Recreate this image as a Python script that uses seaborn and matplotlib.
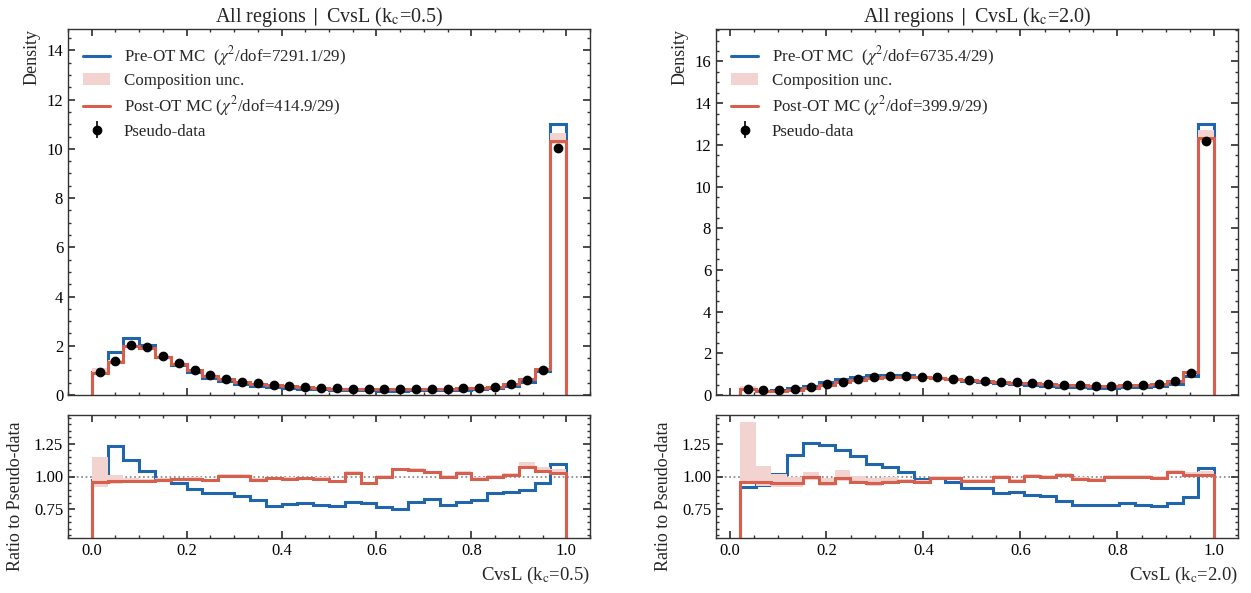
import numpy as np
import matplotlib
matplotlib.use("Agg")
import matplotlib.pyplot as plt
from matplotlib.ticker import MultipleLocator
import seaborn as sns

# binning: 30 bins up to 1.0, lower edge differs per panel
n_bins = 30
lo_05 = 0.0
lo_20 = 0.021

# CvsL (kc=0.5): density per bin
data_05 = [0.95, 1.40, 2.04, 1.97, 1.60, 1.28, 1.02, 0.81, 0.65, 0.54,
           0.47, 0.41, 0.36, 0.32, 0.29, 0.27, 0.25, 0.24, 0.235, 0.24,
           0.235, 0.24, 0.25, 0.27, 0.30, 0.34, 0.43, 0.61, 1.03, 10.05]
pre_05 = [0.926, 1.730, 2.303, 2.051, 1.563, 1.215, 0.919, 0.710, 0.567, 0.459,
          0.384, 0.319, 0.284, 0.254, 0.226, 0.210, 0.201, 0.191, 0.181, 0.181,
          0.189, 0.198, 0.195, 0.217, 0.245, 0.297, 0.380, 0.547, 0.977, 11.015]
post_05 = [0.907, 1.350, 1.973, 1.895, 1.560, 1.254, 1.002, 0.787, 0.653, 0.544,
           0.459, 0.405, 0.354, 0.316, 0.285, 0.260, 0.257, 0.228, 0.234, 0.253,
           0.246, 0.248, 0.250, 0.278, 0.295, 0.340, 0.436, 0.652, 1.074, 10.331]
# composition uncertainty, relative to post-OT MC
unc_up_05 = [0.20, 0.05, 0.02, 0.02, 0.012, 0.012, 0.012, 0.012, 0.012, 0.012,
             0.012, 0.012, 0.012, 0.012, 0.012, 0.012, 0.012, 0.012, 0.012, 0.012,
             0.015, 0.012, 0.012, 0.015, 0.012, 0.012, 0.012, 0.04, 0.03, 0.03]
unc_dn_05 = [0.04, 0.02, 0.02, 0.015, 0.012, 0.012, 0.012, 0.012, 0.012, 0.012,
             0.012, 0.012, 0.012, 0.012, 0.012, 0.012, 0.012, 0.012, 0.012, 0.012,
             0.012, 0.012, 0.012, 0.012, 0.012, 0.012, 0.012, 0.012, 0.012, 0.012]
chi2_pre_05 = "7291.1/29"
chi2_post_05 = "414.9/29"

# CvsL (kc=2.0)
data_20 = [0.31, 0.22, 0.22, 0.27, 0.36, 0.505, 0.645, 0.755, 0.86, 0.905,
           0.905, 0.885, 0.84, 0.785, 0.735, 0.685, 0.645, 0.60, 0.56, 0.515,
           0.49, 0.47, 0.45, 0.45, 0.46, 0.48, 0.53, 0.67, 1.075, 12.2]
pre_20 = [0.286, 0.205, 0.224, 0.314, 0.451, 0.627, 0.778, 0.872, 0.943, 0.969,
          0.939, 0.865, 0.829, 0.751, 0.670, 0.627, 0.563, 0.529, 0.482, 0.440,
          0.398, 0.366, 0.353, 0.351, 0.367, 0.375, 0.410, 0.536, 0.903, 13.005]
post_20 = [0.298, 0.211, 0.209, 0.257, 0.358, 0.479, 0.637, 0.723, 0.816, 0.866,
           0.872, 0.847, 0.832, 0.775, 0.711, 0.664, 0.642, 0.578, 0.562, 0.512,
           0.497, 0.462, 0.437, 0.448, 0.458, 0.478, 0.525, 0.692, 1.089, 12.322]
unc_up_20 = [0.47, 0.125, 0.075, 0.045, 0.04, 0.045, 0.06, 0.05, 0.045, 0.04,
             0.02, 0.015, 0.015, 0.015, 0.015, 0.015, 0.015, 0.015, 0.015, 0.015,
             0.015, 0.015, 0.015, 0.015, 0.015, 0.015, 0.015, 0.02, 0.02, 0.03]
unc_dn_20 = [0.02, 0.03, 0.03, 0.03, 0.02, 0.025, 0.02, 0.015, 0.02, 0.015,
             0.015, 0.015, 0.015, 0.015, 0.015, 0.015, 0.015, 0.015, 0.015, 0.015,
             0.015, 0.015, 0.015, 0.015, 0.015, 0.015, 0.015, 0.015, 0.015, 0.015]
chi2_pre_20 = "6735.4/29"
chi2_post_20 = "399.9/29"

BLUE = "#2166ac"
RED = "#d6604d"
PINK = "#f3d3cf"

sns.set_theme(style="ticks")
plt.rcParams["font.family"] = ["Liberation Serif", "DejaVu Serif"]
plt.rcParams["mathtext.fontset"] = "stix"
plt.rcParams.update({
    "xtick.direction": "in", "ytick.direction": "in",
    "xtick.top": True, "ytick.right": True,
    "xtick.minor.visible": True, "ytick.minor.visible": True,
    "xtick.major.size": 5, "ytick.major.size": 5,
    "xtick.minor.size": 2.5, "ytick.minor.size": 2.5,
    "xtick.color": "#333333", "ytick.color": "#333333",
    "axes.edgecolor": "#333333", "axes.linewidth": 1.0,
    "xtick.labelsize": 12, "ytick.labelsize": 12,
    "xtick.labelcolor": "black", "ytick.labelcolor": "black",
})


def draw(fig, x0, lo, data, pre, post, up, dn, chi_pre, chi_post, kc):
    w = 522 / 1251
    ax = fig.add_axes([x0, 1 - 395 / 593, w, 366 / 593])
    rax = fig.add_axes([x0, 1 - 538 / 593, w, 123 / 593], sharex=ax)

    edges = np.linspace(lo, 1.0, n_bins + 1)
    centers = 0.5 * (edges[1:] + edges[:-1])
    data = np.asarray(data)
    pre = np.asarray(pre)
    post = np.asarray(post)
    band_hi = post * (1 + np.asarray(up))
    band_lo = post * (1 - np.asarray(dn))

    ax.stairs(pre, edges, color=BLUE, lw=2.2,
              label=r"Pre-OT MC  ($\chi^2$/dof=" + chi_pre + ")")
    ax.stairs(band_hi, edges, baseline=band_lo, fill=True, color=PINK,
              lw=0, label="Composition unc.")
    ax.stairs(post, edges, color=RED, lw=2.2,
              label=r"Post-OT MC ($\chi^2$/dof=" + chi_post + ")")
    ax.errorbar(centers, data, yerr=0.02, fmt="o", color="black", ms=6,
                elinewidth=1.2, label="Pseudo-data", zorder=5)

    ax.set_ylim(0, 1.35 * pre.max())
    pad = 0.05 * (1.0 - lo)
    ax.set_xlim(lo - pad, 1.0 + pad)
    ax.yaxis.set_major_locator(MultipleLocator(2))
    ax.yaxis.set_minor_locator(MultipleLocator(0.5))
    ax.xaxis.set_major_locator(MultipleLocator(0.2))
    ax.xaxis.set_minor_locator(MultipleLocator(0.05))
    ax.tick_params(labelbottom=False)
    ax.set_ylabel("Density", loc="top", fontsize=13)
    ax.set_title(r"All regions $\mid$ CvsL (k$_{\mathrm{c}}$=" + kc + ")",
                 fontsize=14.5, pad=5)
    ax.legend(loc="upper left", frameon=False, fontsize=12.2,
              handlelength=1.6, handletextpad=0.8, borderaxespad=0.5,
              labelspacing=0.3)

    rax.stairs(pre / data, edges, color=BLUE, lw=2.2)
    rax.stairs(band_hi / data, edges, baseline=band_lo / data, fill=True,
               color=PINK, lw=0)
    rax.stairs(post / data, edges, color=RED, lw=2.2)
    rax.axhline(1.0, color="grey", ls=":", lw=1.2, zorder=0.5)
    rax.set_ylim(0.53, 1.47)
    rax.yaxis.set_major_locator(MultipleLocator(0.25))
    rax.yaxis.set_minor_locator(MultipleLocator(0.05))
    rax.set_ylabel("Ratio to Pseudo-data", fontsize=13)
    rax.yaxis.set_label_coords(-0.085, 0.34)
    rax.set_xlabel("CvsL (k$_{\\mathrm{c}}$=" + kc + ")", loc="right",
                   fontsize=13.5)


fig = plt.figure(figsize=(12.51, 5.93), dpi=100)
draw(fig, 68 / 1251, lo_05, data_05, pre_05, post_05, unc_up_05, unc_dn_05,
     chi2_pre_05, chi2_post_05, "0.5")
draw(fig, 716 / 1251, lo_20, data_20, pre_20, post_20, unc_up_20, unc_dn_20,
     chi2_pre_20, chi2_post_20, "2.0")
fig.savefig("out.png", dpi=100)
